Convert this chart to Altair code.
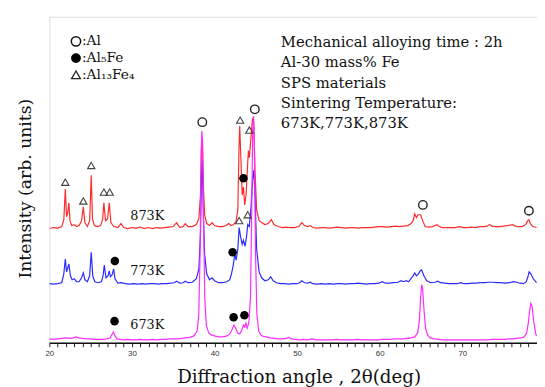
import altair as alt
import pandas as pd

# ---------------- data: (2theta, intensity) ----------------
red_points = [
    (20.0, 116), (20.5, 117), (21.0, 116.5), (21.5, 118), (21.75, 125), (21.93, 156), (22.08, 128),
    (22.22, 132), (22.36, 142), (22.5, 124), (22.7, 119), (23.0, 120), (23.3, 118), (23.6, 119),
    (23.9, 124), (24.11, 138), (24.3, 122), (24.6, 118), (24.88, 124), (25.07, 170), (25.22, 126),
    (25.45, 119), (25.8, 118), (26.2, 119), (26.45, 125), (26.6, 142), (26.8, 124), (27.05, 126),
    (27.25, 142), (27.45, 122), (27.8, 118), (28.3, 117), (28.68, 121), (29.0, 117), (29.5, 116),
    (30.0, 117), (30.5, 116.5), (31.0, 117.5), (31.5, 116), (32.0, 117), (32.5, 116), (33.0, 117),
    (33.5, 116.5), (34.0, 117), (34.5, 117.5), (35.0, 118), (35.4, 122), (35.8, 117), (36.2, 118),
    (36.45, 121), (36.8, 118), (37.3, 118), (37.8, 120), (38.1, 126), (38.3, 150), (38.42, 200),
    (38.52, 208), (38.65, 160), (38.8, 130), (39.05, 121), (39.4, 119), (39.7, 122), (40.0, 119),
    (40.5, 118), (41.0, 118), (41.4, 119), (41.7, 121), (42.0, 119), (42.3, 120), (42.6, 123),
    (42.82, 135), (42.97, 200), (43.05, 220), (43.2, 185), (43.35, 150), (43.5, 158), (43.65, 140),
    (43.82, 150), (43.97, 175), (44.1, 195), (44.22, 188), (44.38, 205), (44.6, 228), (44.75, 224),
    (44.9, 175), (45.1, 135), (45.4, 124), (45.7, 122), (46.1, 120), (46.5, 121), (46.88, 125),
    (47.2, 120), (47.7, 118), (48.2, 117), (48.7, 117.5), (49.2, 117), (49.7, 117), (50.2, 118),
    (50.57, 122), (50.9, 119), (51.3, 118), (51.6, 119), (51.9, 117), (52.4, 116.5), (52.9, 117),
    (53.4, 117), (53.9, 116.5), (54.4, 117), (54.9, 117.5), (55.4, 117), (55.9, 116.5), (56.4, 117),
    (56.9, 117), (57.4, 116.5), (57.9, 117), (58.4, 117), (58.9, 117), (59.4, 117.5), (59.9, 118),
    (60.4, 118), (60.9, 117.5), (61.4, 118), (61.9, 118.5), (62.4, 118), (62.9, 118.5), (63.4, 119),
    (63.8, 121), (64.05, 124), (64.24, 131), (64.45, 127), (64.64, 130), (64.96, 130), (65.2, 124),
    (65.5, 118), (65.9, 117.5), (66.4, 118), (66.94, 120), (67.2, 118), (67.6, 117), (68.1, 117),
    (68.6, 117), (69.1, 117), (69.7, 118), (70.1, 117), (70.6, 117), (71.1, 117.5), (71.6, 117),
    (72.1, 118), (72.6, 118), (73.0, 118.5), (73.3, 120), (73.6, 118.5), (74.0, 118), (74.5, 118),
    (75.0, 118.5), (75.5, 119), (76.08, 120), (76.4, 118.5), (76.8, 118), (77.2, 118), (77.5, 119),
    (77.75, 121), (77.92, 124), (78.07, 125), (78.25, 121), (78.55, 118), (79.0, 117),
]

blue_points = [
    (20.0, 60), (20.5, 59.5), (21.0, 60), (21.5, 61), (21.75, 70), (21.93, 85), (22.08, 72),
    (22.36, 80), (22.55, 68), (22.75, 64), (23.0, 65), (23.3, 62), (23.6, 62), (23.9, 66),
    (24.11, 71), (24.3, 64), (24.6, 62), (24.88, 68), (25.07, 92), (25.25, 68), (25.5, 62),
    (25.9, 61), (26.3, 62), (26.5, 68), (26.65, 79), (26.85, 66), (27.1, 68), (27.25, 73),
    (27.4, 67), (27.6, 69), (27.78, 75), (27.95, 65), (28.3, 60.5), (28.7, 61), (29.2, 60),
    (29.7, 59.5), (30.2, 60), (30.7, 59.5), (31.2, 60), (31.7, 59.5), (32.2, 60), (32.7, 60),
    (33.2, 59.5), (33.7, 60), (34.2, 60), (34.7, 60.5), (35.1, 61), (35.4, 62.5), (35.8, 60.5),
    (36.2, 61), (36.45, 62.5), (36.8, 61), (37.3, 61.5), (37.8, 65), (38.1, 75), (38.3, 110),
    (38.42, 170), (38.52, 185), (38.65, 130), (38.8, 90), (39.05, 70), (39.4, 64), (39.7, 66),
    (40.0, 63), (40.5, 61), (41.0, 61), (41.5, 62), (41.85, 64), (42.05, 70), (42.25, 78),
    (42.45, 90), (42.62, 84), (42.82, 95), (42.98, 117), (43.15, 108), (43.35, 100), (43.5, 104),
    (43.7, 98), (43.88, 108), (44.02, 120), (44.2, 118), (44.4, 135), (44.6, 165), (44.75, 175),
    (44.9, 150), (45.1, 95), (45.4, 72), (45.7, 66), (46.1, 63), (46.5, 64), (46.8, 67),
    (47.1, 63), (47.5, 61), (48.0, 60), (48.5, 60), (49.0, 59.5), (49.5, 60), (50.0, 60),
    (50.3, 61), (50.57, 63), (50.9, 61), (51.3, 60.5), (51.6, 61.5), (51.9, 60), (52.4, 59.5),
    (52.9, 60), (53.4, 59.5), (53.9, 60), (54.4, 59.5), (54.9, 60), (55.4, 60), (55.9, 59.5),
    (56.4, 60), (56.9, 60), (57.4, 60.5), (57.9, 60), (58.4, 59.5), (58.9, 60), (59.4, 60),
    (59.9, 60.5), (60.3, 62), (60.7, 60.5), (61.2, 60.5), (61.7, 61), (62.2, 61.5), (62.6, 63),
    (62.9, 62), (63.2, 63), (63.5, 62), (63.85, 66), (64.05, 68), (64.24, 71), (64.45, 68),
    (64.7, 70), (64.9, 73), (65.08, 74), (65.35, 68), (65.7, 63), (66.2, 61), (66.7, 61.5),
    (67.0, 62.5), (67.4, 61), (67.9, 60.5), (68.4, 60), (68.9, 60), (69.4, 60), (69.8, 61),
    (70.2, 60), (70.7, 60), (71.2, 60.5), (71.7, 60.5), (72.2, 61), (72.7, 61), (73.2, 61.5),
    (73.7, 61.5), (74.2, 61), (74.7, 61), (75.2, 60.5), (75.7, 61), (76.2, 62), (76.6, 61.5),
    (77.0, 60.5), (77.4, 60), (77.75, 62), (77.95, 67), (78.1, 72), (78.3, 70), (78.6, 65),
    (79.0, 61),
]

magenta_points = [
    (20.0, 4), (20.5, 3.5), (21.0, 4), (21.5, 4.5), (22.0, 5), (22.5, 4.5), (22.9, 5), (23.2, 6),
    (23.6, 5), (24.0, 4.5), (24.5, 4), (25.0, 4), (25.5, 3.5), (26.0, 3.5), (26.5, 3.5), (27.0, 4),
    (27.35, 5), (27.6, 9), (27.75, 11), (27.95, 7), (28.2, 4), (28.6, 3.5), (29.0, 3), (29.5, 3.5),
    (30.0, 3), (30.5, 3), (31.0, 3.5), (31.5, 3), (32.0, 3), (32.5, 3.5), (33.0, 3), (33.5, 3.5),
    (34.0, 3.5), (34.5, 4), (35.0, 4), (35.5, 4), (36.0, 4.5), (36.5, 5), (37.0, 5.5), (37.5, 7),
    (37.9, 12), (38.1, 30), (38.25, 90), (38.38, 190), (38.46, 215), (38.55, 205), (38.68, 120),
    (38.82, 45), (39.0, 18), (39.3, 10), (39.6, 8), (40.0, 7), (40.5, 6), (41.0, 6), (41.5, 7),
    (41.85, 9), (42.1, 13), (42.35, 18), (42.55, 15), (42.8, 10), (43.05, 9), (43.3, 13),
    (43.5, 18), (43.65, 16), (43.8, 20), (43.95, 15), (44.15, 20), (44.35, 45), (44.5, 130),
    (44.62, 215), (44.72, 230), (44.82, 205), (44.97, 90), (45.12, 30), (45.35, 12), (45.6, 8),
    (45.9, 6.5), (46.3, 6), (46.7, 5), (47.2, 4.5), (47.7, 4), (48.2, 4), (48.7, 4.5), (49.0, 5.5),
    (49.3, 4), (49.8, 3.5), (50.3, 3), (50.8, 3.5), (51.3, 3), (51.8, 4), (52.3, 3), (52.8, 3),
    (53.3, 3), (53.8, 3), (54.3, 3), (54.8, 3.5), (55.3, 3), (55.8, 3), (56.3, 3), (56.8, 3),
    (57.3, 3.5), (57.8, 3), (58.3, 3), (58.8, 3), (59.3, 3), (59.8, 3), (60.3, 3.5), (60.8, 3.5),
    (61.3, 3.5), (61.8, 4), (62.3, 4), (62.8, 4), (63.3, 4.5), (63.8, 5), (64.25, 6), (64.6, 10),
    (64.8, 22), (64.95, 45), (65.08, 59), (65.2, 55), (65.35, 35), (65.55, 15), (65.8, 8),
    (66.1, 5), (66.6, 4), (67.1, 3.5), (67.6, 3), (68.1, 3), (68.6, 3), (69.1, 3), (69.6, 3),
    (70.1, 3), (70.6, 3), (71.1, 3), (71.6, 3), (72.1, 3), (72.6, 3), (73.1, 3), (73.6, 3.5),
    (74.1, 3.5), (74.6, 3.5), (75.1, 3.5), (75.6, 4), (76.1, 4), (76.6, 4.5), (77.1, 5), (77.5, 6),
    (77.8, 10), (78.0, 20), (78.15, 32), (78.3, 40), (78.45, 37), (78.65, 22), (78.9, 9), (79.0, 7),
]

# peak markers
al_theta = [38.52, 44.88, 65.23, 78.07]
al_y = [224, 237, 140, 134]
al5fe_theta = [43.5, 27.93, 42.19, 27.89, 42.31, 43.62]
al5fe_y = [167, 83, 92, 22, 26, 28]
al13fe4_theta = [21.93, 24.11, 25.07, 26.6, 27.3, 43.1, 44.22, 42.98, 44.02]
al13fe4_y = [163, 144, 180, 153, 153, 226, 216, 124, 130]

sample_names = ["873K", "773K", "673K"]
sample_label_y = [129, 73, 18]
sample_colors = ["#ff2a2a", "#2a2aff", "#ff2aff"]
info_lines = ["Mechanical alloying time : 2h", "Al-30 mass% Fe", "SPS materials",
              "Sintering Temperature:", "673K,773K,873K"]
legend_labels = [":Al", ":Al\u2085Fe", ":Al\u2081\u2083Fe\u2084"]

FONT = "DejaVu Serif"

xscale = alt.Scale(domain=[20, 79.05], nice=False, zero=False)
yscale = alt.Scale(domain=[0, 331], nice=False, zero=False)

xaxis = alt.Axis(values=list(range(20, 80)), labelExpr="datum.value % 10 == 0 ? datum.label : ''",
                 tickSize=4, tickColor="#222", domainColor="#111", domainWidth=1.5,
                 labelFontSize=8, labelFont="Liberation Sans", labelColor="#333", labelPadding=3,
                 labelFlush=False, labelOverlap=False, grid=False,
                 titleFont=FONT, titleFontSize=18.5, titleFontWeight="normal", titleColor="#111",
                 titlePadding=10, titleX=253)
yaxis = alt.Axis(labels=False, ticks=False, grid=False, domain=False,
                 titleFont=FONT, titleFontSize=17.5, titleFontWeight="normal", titleColor="#111",
                 titlePadding=15, titleY=174)

X = alt.X("theta:Q", scale=xscale, axis=xaxis, title="Diffraction angle , 2θ(deg)")
Y = alt.Y("intensity:Q", scale=yscale, axis=yaxis, title="Intensity (arb. units)")


def series(points, name):
    return pd.DataFrame({"theta": [p[0] for p in points],
                         "intensity": [p[1] for p in points],
                         "sample": name})


frames = [series(red_points, sample_names[0]),
          series(blue_points, sample_names[1]),
          series(magenta_points, sample_names[2])]

layers = []
for df, col in zip(frames, sample_colors):
    layers.append(alt.Chart(df).mark_line(color=col, strokeWidth=1.2, clip=True).encode(x=X, y=Y))

al_df = pd.DataFrame({"theta": al_theta, "intensity": al_y})
al5_df = pd.DataFrame({"theta": al5fe_theta, "intensity": al5fe_y})
al13_df = pd.DataFrame({"theta": al13fe4_theta, "intensity": al13fe4_y})

layers.append(alt.Chart(al_df).mark_point(shape="circle", filled=False, stroke="#222",
                                          strokeWidth=1.4, size=75, opacity=1).encode(x=X, y=Y))
layers.append(alt.Chart(al5_df).mark_point(shape="circle", filled=True, fill="#000",
                                           size=75, opacity=1).encode(x=X, y=Y))
layers.append(alt.Chart(al13_df).mark_point(shape="triangle-up", filled=False, stroke="#444",
                                            strokeWidth=1.1, size=55, opacity=1).encode(x=X, y=Y))

# sample labels
lab_df = pd.DataFrame({"label": sample_names, "theta": [29.8] * 3, "intensity": sample_label_y})
layers.append(alt.Chart(lab_df).mark_text(font=FONT, fontSize=13, align="left", baseline="middle",
                                          color="#111").encode(x=X, y=Y, text="label:N"))

# information block (one text per line)
for i, line in enumerate(info_lines):
    layers.append(alt.Chart(pd.DataFrame({"line": [line]})).mark_text(
        font=FONT, fontSize=15, align="left", baseline="middle", color="#111").encode(
        x=alt.value(235), y=alt.value(26 + 20.5 * i), text="line:N"))

# legend
for i, lab in enumerate(legend_labels):
    layers.append(alt.Chart(pd.DataFrame({"label": [lab]})).mark_text(
        font=FONT, fontSize=14, align="left", baseline="middle", color="#111").encode(
        x=alt.value(33), y=alt.value(25 + 17 * i), text="label:N"))
leg_sym = pd.DataFrame({"k": [0]})
layers.append(alt.Chart(leg_sym).mark_point(shape="circle", filled=False, stroke="#111",
                                            strokeWidth=1.5, size=90, opacity=1).encode(
    x=alt.value(27), y=alt.value(25)))
layers.append(alt.Chart(leg_sym).mark_point(shape="circle", filled=True, fill="#000",
                                            size=100, opacity=1).encode(x=alt.value(27), y=alt.value(42)))
layers.append(alt.Chart(leg_sym).mark_point(shape="triangle-up", filled=False, stroke="#222",
                                            strokeWidth=1.3, size=80, opacity=1).encode(
    x=alt.value(27), y=alt.value(59)))

chart = alt.layer(*layers).properties(
    width=495, height=331,
    autosize=alt.AutoSizeParams(type="none"),
    padding={"left": 42, "top": 6, "right": 0, "bottom": 42},
).configure_view(stroke="#555", strokeWidth=1.5).configure(background="white")

chart.save("out.html", embed_options={"renderer": "svg", "actions": False})
